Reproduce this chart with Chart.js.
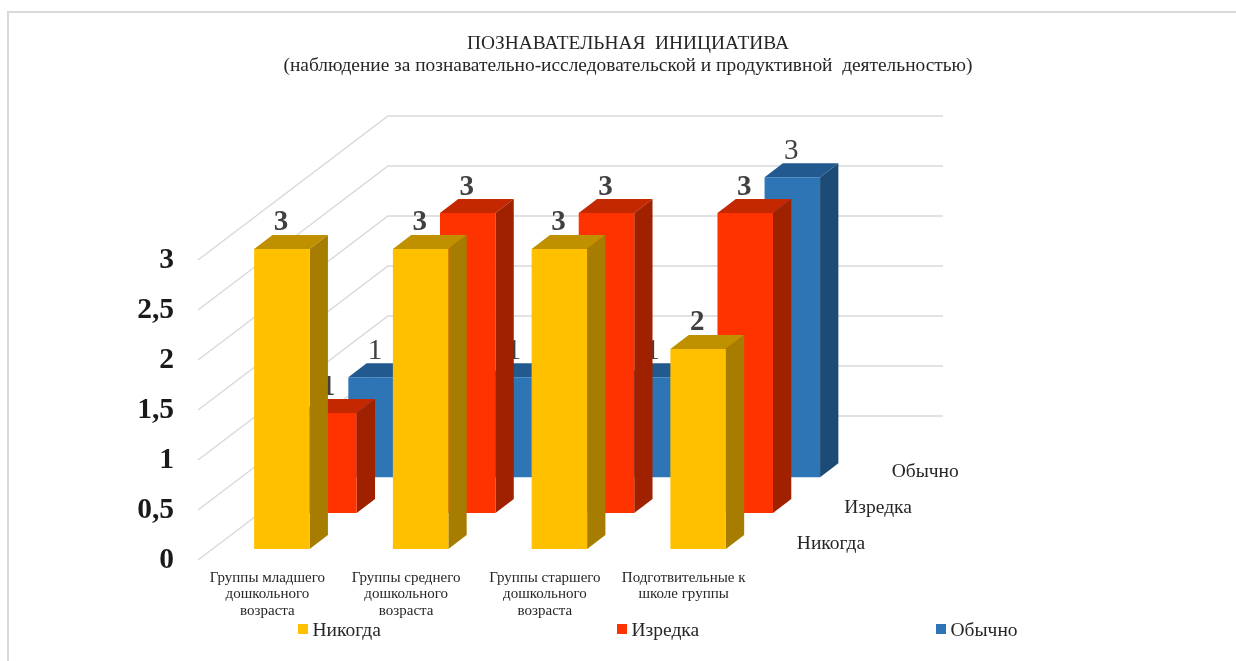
<!DOCTYPE html>
<html>
<head>
<meta charset="utf-8">
<style>
  html, body { margin: 0; background: #fff; overflow: hidden; }
  #frame { position: absolute; left: 7px; top: 11px; right: 0; bottom: 0; border-left: 2px solid #d9d9d9; border-top: 2px solid #d9d9d9; }
  canvas { position: absolute; left: 0; top: 0; }
</style>
<script src="https://cdn.jsdelivr.net/npm/chart.js@4"></script>
</head>
<body>
<div id="frame"></div>
<canvas id="chart" width="1236" height="661"></canvas>
<script>
const categories = [
    ['Группы младшего', 'дошкольного', 'возраста'],
    ['Группы среднего', 'дошкольного', 'возраста'],
    ['Группы старшего', 'дошкольного', 'возраста'],
    ['Подготвительные к', 'школе группы']
];
const seriesNames = ['Никогда', 'Изредка', 'Обычно'];
const never = [3, 3, 3, 2];
const rarely = [1, 3, 3, 3];
const usually = [1, 1, 1, 3];

const frontColors = ['#FFC000', '#FF3300', '#2E75B6'];
const topColors = ['#BF9000', '#C32800', '#225A8F'];
const sideColors = ['#A67D00', '#A02100', '#1C4B75'];
const labelWeights = ['bold', 'bold', 'normal'];
const legendLeft = [298, 617, 936];

const serif = '"Liberation Serif", serif';
const barDepthX = 18.3;
const barDepthY = 14;
const wallX = 190;
const wallY = -144;

const offsetX = i => 14.5 + 47.1 * i;
const offsetY = i => -11 - 35.9 * i;

const scene3d = {
    id: 'scene3d',
    beforeDatasetsDraw(chart) {
        const { ctx, chartArea, scales } = chart;
        ctx.save();
        ctx.strokeStyle = '#d9d9d9';
        ctx.lineWidth = 1.5;
        scales.y.ticks.forEach(t => {
            const py = scales.y.getPixelForValue(t.value);
            ctx.beginPath();
            ctx.moveTo(chartArea.left, py);
            ctx.lineTo(chartArea.left + wallX, py + wallY);
            ctx.lineTo(chartArea.right + wallX, py + wallY);
            ctx.stroke();
        });
        ctx.restore();
    },
    beforeDatasetDraw(chart, args) {
        const ctx = chart.ctx;
        const i = args.index;
        ctx.save();
        ctx.translate(offsetX(i), offsetY(i));
        args.meta.data.forEach(bar => {
            const l = bar.x - bar.width / 2;
            const r = bar.x + bar.width / 2;
            ctx.fillStyle = topColors[i];
            ctx.beginPath();
            ctx.moveTo(l, bar.y);
            ctx.lineTo(l + barDepthX, bar.y - barDepthY);
            ctx.lineTo(r + barDepthX, bar.y - barDepthY);
            ctx.lineTo(r, bar.y);
            ctx.closePath();
            ctx.fill();
            ctx.fillStyle = sideColors[i];
            ctx.beginPath();
            ctx.moveTo(r, bar.y);
            ctx.lineTo(r + barDepthX, bar.y - barDepthY);
            ctx.lineTo(r + barDepthX, bar.base - barDepthY);
            ctx.lineTo(r, bar.base);
            ctx.closePath();
            ctx.fill();
        });
    },
    afterDatasetDraw(chart, args) {
        const { ctx, chartArea, data } = chart;
        const i = args.index;
        const ds = data.datasets[i];
        ctx.textAlign = 'center';
        ctx.textBaseline = 'middle';
        ctx.fillStyle = '#404040';
        ctx.font = labelWeights[i] + ' 29px ' + serif;
        args.meta.data.forEach((bar, j) => {
            ctx.fillText(String(ds.data[j]), bar.x - 1, bar.y - barDepthY - 12);
        });
        // depth axis label, sits on the same row as the series
        ctx.fillStyle = '#262626';
        ctx.font = '19.5px ' + serif;
        ctx.fillText(ds.label, chartArea.right + 63.5, chartArea.bottom - 5);
        ctx.restore();
    },
    afterDraw(chart) {
        const ctx = chart.ctx;
        ctx.save();
        ctx.font = '19.5px ' + serif;
        ctx.textAlign = 'left';
        ctx.textBaseline = 'middle';
        chart.data.datasets.forEach((ds, i) => {
            ctx.fillStyle = ds.backgroundColor;
            ctx.fillRect(legendLeft[i], 624, 10, 10);
            ctx.fillStyle = '#262626';
            ctx.fillText(ds.label, legendLeft[i] + 14.5, 630.5);
        });
        ctx.restore();
    }
};

new Chart(document.getElementById('chart'), {
    type: 'bar',
    data: {
        labels: categories,
        datasets: [never, rarely, usually].map((values, i) => ({
            label: seriesNames[i],
            data: values,
            backgroundColor: frontColors[i],
            borderWidth: 0,
            clip: false
        }))
    },
    plugins: [scene3d],
    options: {
        responsive: false,
        animation: false,
        layout: { padding: { left: 20 } },
        datasets: { bar: { grouped: false, barPercentage: 0.4, categoryPercentage: 1 } },
        plugins: {
            legend: { display: false },
            tooltip: { enabled: false },
            title: {
                display: true,
                text: ['ПОЗНАВАТЕЛЬНАЯ  ИНИЦИАТИВА', '(наблюдение за познавательно-исследовательской и продуктивной  деятельностью)'],
                color: '#262626',
                font: { family: serif, size: 19.4, weight: 'normal', lineHeight: 22 / 19.4 },
                padding: { top: 33, bottom: 183 }
            }
        },
        scales: {
            x: {
                grid: { display: false },
                border: { display: false },
                afterFit(scale) { scale.height = 101; },
                ticks: {
                    color: '#262626',
                    padding: 2,
                    autoSkip: false,
                    maxRotation: 0,
                    font: { family: serif, size: 15, lineHeight: 16.3 / 15 }
                }
            },
            y: {
                min: 0,
                max: 3,
                grid: { display: false },
                border: { display: false },
                afterFit(scale) { scale.width = 178; },
                ticks: {
                    stepSize: 0.5,
                    color: '#1a1a1a',
                    padding: 16,
                    font: { family: serif, size: 29.5, weight: 'bold' },
                    callback: v => String(v).replace('.', ',')
                }
            },
            spacer: {
                position: 'right',
                grid: { display: false },
                border: { display: false },
                ticks: { display: false },
                afterFit(scale) { scale.width = 483; }
            }
        }
    }
});
</script>
</body>
</html>
